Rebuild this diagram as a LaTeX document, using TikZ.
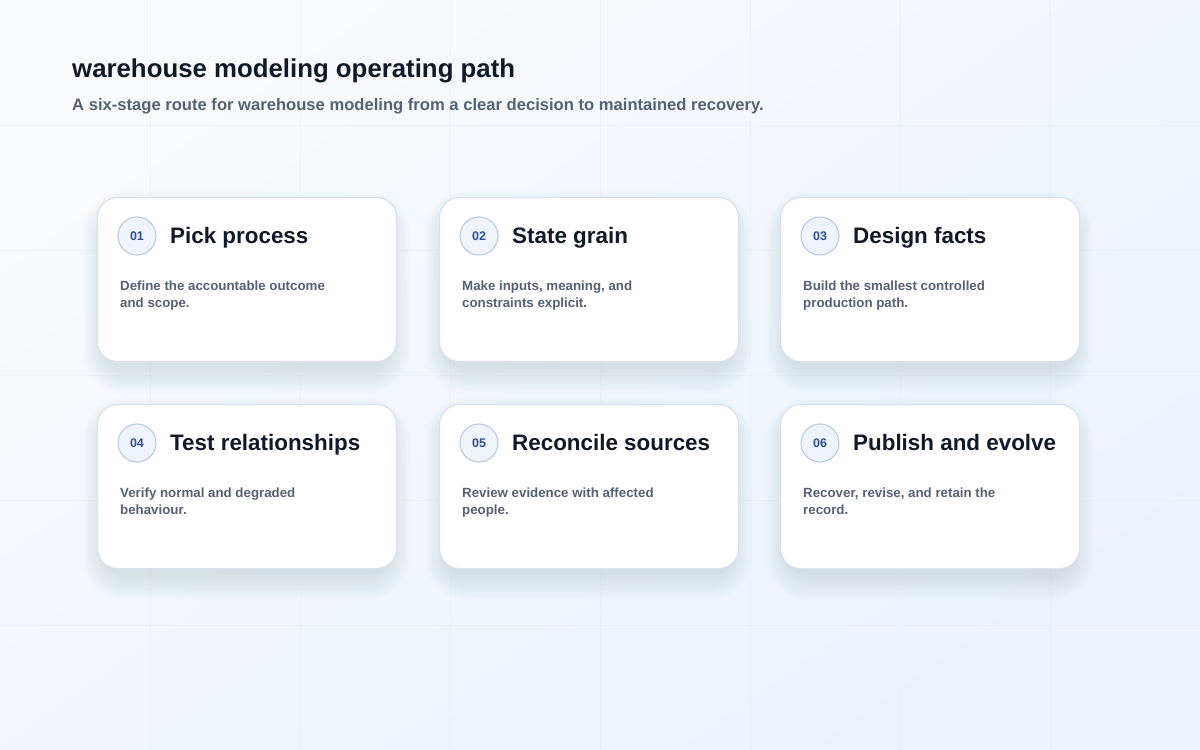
\documentclass[tikz,border=0pt]{standalone}
\usepackage{fontspec}
\setmainfont{Liberation Sans}
\definecolor{bgA}{HTML}{F8FAFC}
\definecolor{bgB}{HTML}{ECF2FC}
\definecolor{gridc}{HTML}{E3E8F0}
\definecolor{cardline}{HTML}{D9E1EC}
\definecolor{shadowc}{HTML}{6A7A9C}
\definecolor{inkdark}{HTML}{111827}
\definecolor{inkgray}{HTML}{566175}
\definecolor{numblue}{HTML}{2C4F96}
\definecolor{circfill}{HTML}{EEF3FC}
\definecolor{circline}{HTML}{B9CBE8}
\tikzset{
  cardbox/.style={draw=cardline, line width=1.1pt, fill=white, rounded corners=20pt,
    minimum width=299pt, minimum height=164pt, inner sep=0pt, anchor=north west},
  numcirc/.style={circle, draw=circline, line width=1.1pt, fill=circfill, minimum size=38pt,
    inner sep=0pt, text=numblue, font=\fontsize{12.5}{15}\selectfont\bfseries},
  titletext/.style={anchor=base west, inner sep=0pt, text=inkdark, font=\fontsize{22.4}{26}\selectfont\bfseries},
  desctext/.style={anchor=base west, inner sep=0pt, text=inkgray, font=\fontsize{13.3}{17}\selectfont\bfseries},
}
\newcommand\stagecard[7]{%
  \foreach \i in {0,...,22}{%
    \fill[shadowc, opacity=0.0095, rounded corners={20+\i}]
      ({#2+6-0.9*\i},{#3+14-0.9*\i}) rectangle ({#2+293+0.9*\i},{#3+164+6+1.2*\i});
  }
  \node[cardbox] (#1) at (#2,#3) {};
  \node[numcirc] (#1n) at ({#2+40},{#3+39}) {#4};
  \node[titletext] (#1t) at ({#2+73},{#3+46}) {#5};
  \node[desctext] (#1d) at ({#2+23},{#3+93}) {#6};
  \node[desctext] (#1e) at ({#2+23},{#3+110}) {#7};
}
\begin{document}
\begin{tikzpicture}[x=1pt,y=-1pt]
\useasboundingbox (0,0) rectangle (1200,750);
\shade[top color=bgA, bottom color=bgB, shading angle=35] (0,0) rectangle (1200,750);
\foreach \gx in {150,300,...,1050} \draw[gridc, line width=0.8pt, opacity=0.35] (\gx,0) -- (\gx,750);
\foreach \gy in {125,250,...,625} \draw[gridc, line width=0.8pt, opacity=0.35] (0,\gy) -- (1200,\gy);

\node[anchor=base west, inner sep=0pt, text=inkdark, font=\fontsize{25.8}{30}\selectfont\bfseries]
  (title) at (72,77) {warehouse modeling operating path};
\node[anchor=base west, inner sep=0pt, text=inkgray, font=\fontsize{16.6}{20}\selectfont\bfseries]
  (subtitle) at (72,110) {A six-stage route for warehouse modeling from a clear decision to maintained recovery.};

\stagecard{s1}{97}{197}{01}{Pick process}{Define the accountable outcome}{and scope.}
\stagecard{s2}{439}{197}{02}{State grain}{Make inputs, meaning, and}{constraints explicit.}
\stagecard{s3}{780}{197}{03}{Design facts}{Build the smallest controlled}{production path.}
\stagecard{s4}{97}{404}{04}{Test relationships}{Verify normal and degraded}{behaviour.}
\stagecard{s5}{439}{404}{05}{Reconcile sources}{Review evidence with affected}{people.}
\stagecard{s6}{780}{404}{06}{Publish and evolve}{Recover, revise, and retain the}{record.}
\end{tikzpicture}
\end{document}
